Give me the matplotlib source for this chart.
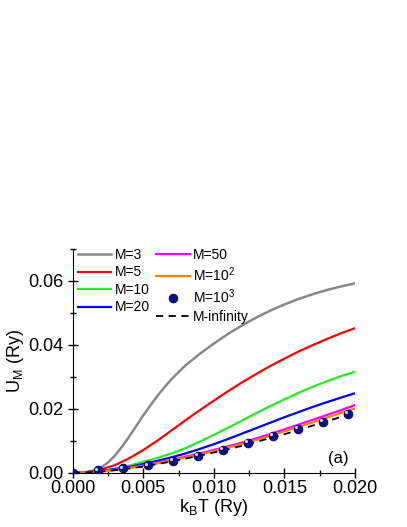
import matplotlib
matplotlib.use("Agg")
import matplotlib.pyplot as plt
from matplotlib.transforms import offset_copy

plt.rcParams['font.family'] = ['Liberation Sans', 'DejaVu Sans']
plt.rcParams['mathtext.fontset'] = 'custom'
plt.rcParams['mathtext.rm'] = 'Liberation Sans'

# temperature grid (Ry)
kT = [0.000, 0.001, 0.002, 0.003, 0.004, 0.005, 0.006, 0.007, 0.008, 0.009, 0.010,
      0.011, 0.012, 0.013, 0.014, 0.015, 0.016, 0.017, 0.018, 0.019, 0.020]

# M=3 rises steeply, so it is read on a finer grid at low T
kT_m3 = [0.000, 0.001, 0.0015, 0.002, 0.0025, 0.003, 0.0035, 0.004, 0.0045, 0.005, 0.0055,
         0.006, 0.0065, 0.007, 0.0075, 0.008, 0.009, 0.010, 0.011, 0.012, 0.013, 0.014,
         0.015, 0.016, 0.017, 0.018, 0.019, 0.020]
u_m3 = [0.0, 0.0003, 0.0008, 0.0017, 0.0033, 0.0055, 0.0083, 0.0114, 0.0147, 0.0180, 0.0211,
        0.0241, 0.0268, 0.0293, 0.0315, 0.0336, 0.0372, 0.0404, 0.0434, 0.0461, 0.0485, 0.0507,
        0.0526, 0.0543, 0.0558, 0.0571, 0.0582, 0.0592]

# U_M values
u_m5 = [0.0, 0.0003, 0.0011, 0.0025, 0.0046, 0.0072, 0.0101, 0.0133, 0.0165, 0.0196, 0.0226,
        0.0255, 0.0283, 0.0309, 0.0334, 0.0357, 0.0379, 0.0399, 0.0418, 0.0436, 0.0452]
u_m10 = [0.0, 0.0002, 0.0007, 0.0014, 0.0023, 0.0035, 0.0047, 0.0061, 0.0078, 0.0098, 0.0119,
         0.0141, 0.0164, 0.0187, 0.0209, 0.0230, 0.0250, 0.0269, 0.0286, 0.0302, 0.0316]
u_m20 = [0.0, 0.0002, 0.0006, 0.0012, 0.0019, 0.0028, 0.0038, 0.0049, 0.0061, 0.0075, 0.0090,
         0.0106, 0.0123, 0.0140, 0.0157, 0.0174, 0.0190, 0.0206, 0.0221, 0.0235, 0.0249]
u_m50 = [0.0, 0.0002, 0.0005, 0.0010, 0.0016, 0.0023, 0.0032, 0.0041, 0.0051, 0.0061, 0.0072,
         0.0083, 0.0095, 0.0108, 0.0122, 0.0136, 0.0151, 0.0166, 0.0181, 0.0196, 0.0212]
u_m100 = [0.0, 0.0002, 0.0005, 0.0009, 0.0015, 0.0022, 0.0030, 0.0039, 0.0048, 0.0058, 0.0068,
          0.0079, 0.0091, 0.0103, 0.0116, 0.0130, 0.0144, 0.0158, 0.0173, 0.0187, 0.0202]
u_inf = [0.0, 0.0002, 0.0005, 0.0009, 0.0014, 0.0020, 0.0028, 0.0036, 0.0045, 0.0054, 0.0064,
         0.0074, 0.0085, 0.0097, 0.0109, 0.0121, 0.0134, 0.0148, 0.0161, 0.0175, 0.0190]

# M = 10^3 points
kT_dots = [0.0, 0.00177, 0.00355, 0.00532, 0.00709, 0.00886, 0.01063, 0.0124,
           0.01417, 0.01594, 0.01771, 0.01948]
u_dots = [0.0, 0.0008, 0.0015, 0.0024, 0.0037, 0.0054, 0.0073, 0.0095,
          0.0116, 0.0137, 0.0160, 0.0184]

fig = plt.figure(figsize=(4.07, 5.27), dpi=100)
ax = fig.add_axes([0.179, 0.1025, 0.693, 0.4255])

h3, = ax.plot(kT_m3, u_m3, color='#888888', lw=1.8, label='M=3')
h5, = ax.plot(kT, u_m5, color='#ff0000', lw=1.6, label='M=5')
h10, = ax.plot(kT, u_m10, color='#22ee22', lw=1.6, label='M=10')
h20, = ax.plot(kT, u_m20, color='#0000ff', lw=1.6, label='M=20')
h50, = ax.plot(kT, u_m50, color='#ff00ff', lw=1.6, label='M=50')
h100, = ax.plot(kT, u_m100, color='#ff8000', lw=1.6, label='M=10$^2$')
hinf, = ax.plot(kT, u_inf, color='black', lw=1.3, ls=(0, (4, 3)), label='M-infinity')

hd, = ax.plot(kT_dots, u_dots, ls='none', marker='o', ms=6.3, color='#10108a',
              mec='#000060', mew=0.6, zorder=5)
# small highlight so the dots look like little spheres
shine = offset_copy(ax.transData, fig=fig, x=-1.2, y=1.2, units='points')
ax.plot(kT_dots, u_dots, ls='none', marker='o', ms=2.2, color='#d8d8f0',
        mec='none', transform=shine, zorder=6)

ax.set_xlim(0, 0.020)
ax.set_ylim(0, 0.07)
ax.set_xticks([0.0, 0.005, 0.010, 0.015, 0.020])
ax.set_xticks([0.0025, 0.0075, 0.0125, 0.0175], minor=True)
ax.set_yticks([0.0, 0.02, 0.04, 0.06])
ax.set_yticks([0.01, 0.03, 0.05, 0.07], minor=True)
ax.xaxis.set_major_formatter(plt.FormatStrFormatter('%.3f'))
ax.yaxis.set_major_formatter(plt.FormatStrFormatter('%.2f'))
ax.tick_params(which='major', direction='inout', length=7, width=1, labelsize=13)
ax.tick_params(which='minor', direction='inout', length=4, width=1)
ax.tick_params(axis='x', which='major', pad=1.5)
ax.spines['top'].set_visible(False)
ax.spines['right'].set_visible(False)

ax.set_xlabel('k$_\\mathregular{B}$T (Ry)', fontsize=13, labelpad=0)
ax.set_ylabel('U$_\\mathregular{M}$ (Ry)', fontsize=13, labelpad=1)
ax.text(0.0188, 0.0045, '(a)', fontsize=12, ha='center', va='center')

handles = [h3, h5, h10, h20, h50, h100, hd, hinf]
labels = ['M=3', 'M=5', 'M=10', 'M=20', 'M=50', 'M=10$^2$', 'M=10$^3$', 'M-infinity']
fig.legend(handles, labels, loc='upper left', bbox_to_anchor=(78 / 407, 1 - 248 / 527),
           ncol=2, frameon=False, fontsize=10, handlelength=2.4, handletextpad=0.25,
           labelspacing=0.25, columnspacing=0.45, borderpad=0, borderaxespad=0,
           numpoints=1)

fig.savefig('out.png', dpi=100)
